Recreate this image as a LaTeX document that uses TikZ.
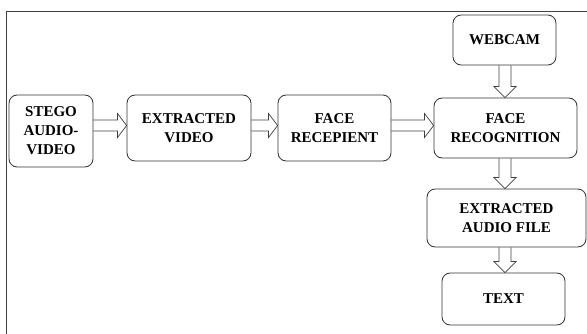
\documentclass[tikz,border=0pt]{standalone}
\usepackage{fontspec}
\setmainfont{Liberation Serif}
\usetikzlibrary{calc}

\tikzset{
    stepbox/.style={draw=black!80, line width=0.7pt, rounded corners=7pt, align=center,
        font=\fontsize{12.8}{16.2}\selectfont\bfseries, inner sep=0pt},
    arrowline/.style={draw=black!75, line width=0.6pt, line join=miter}
}

% hollow block arrows, shaft and head sizes in pt
\newcommand{\harrow}[2]{%
    \draw[arrowline] let \p1=(#1), \p2=(#2) in
        (\x1,\y1+4.7pt) -- (\x2-7.7pt,\y1+4.7pt) -- (\x2-7.7pt,\y1+10.2pt) -- (\x2,\y1)
        -- (\x2-7.7pt,\y1-10.2pt) -- (\x2-7.7pt,\y1-4.7pt) -- (\x1,\y1-4.7pt);}
\newcommand{\varrow}[2]{%
    \draw[arrowline] let \p1=(#1), \p2=(#2) in
        (\x1-5.1pt,\y1) -- (\x1-5.1pt,\y2+9.4pt) -- (\x1-9.4pt,\y2+9.4pt) -- (\x1,\y2)
        -- (\x1+9.4pt,\y2+9.4pt) -- (\x1+5.1pt,\y2+9.4pt) -- (\x1+5.1pt,\y1);}

\begin{document}
\begin{tikzpicture}[x=0.03cm, y=-0.03cm]
        \useasboundingbox (0,0) rectangle (587,333);
        \draw[black!75, line width=0.8pt] (6.5,340) -- (6.5,11) -- (595,11);

        \node [stepbox, minimum width=84*0.03cm, minimum height=72*0.03cm] (stego) at (51,131) {STEGO\\AUDIO-\\VIDEO};
        \node [stepbox, minimum width=124*0.03cm, minimum height=66*0.03cm] (exvideo) at (189,128) {EXTRACTED\\VIDEO};
        \node [stepbox, minimum width=113*0.03cm, minimum height=66*0.03cm] (recepient) at (334.5,128) {FACE\\RECEPIENT};
        \node [stepbox, minimum width=103*0.03cm, minimum height=50*0.03cm] (webcam) at (504.5,40) {WEBCAM};
        \node [stepbox, minimum width=143*0.03cm, minimum height=60*0.03cm] (recognition) at (505.5,128) {FACE\\RECOGNITION};
        \node [stepbox, minimum width=159*0.03cm, minimum height=58*0.03cm] (audio) at (506.5,218) {EXTRACTED\\AUDIO FILE};
        \node [stepbox, minimum width=123*0.03cm, minimum height=52*0.03cm] (text) at (503.5,299) {TEXT};

        % rows and column of the arrows
        \coordinate (row) at (0,125.5);
        \coordinate (col) at (505,0);

        \harrow{stego.east |- row}{exvideo.west |- row}
        \harrow{exvideo.east |- row}{recepient.west |- row}
        \harrow{recepient.east |- row}{recognition.west |- row}
        \varrow{webcam.south -| col}{recognition.north -| col}
        \varrow{recognition.south -| col}{audio.north -| col}
        \varrow{audio.south -| col}{text.north -| col}

    \end{tikzpicture}
\end{document}
